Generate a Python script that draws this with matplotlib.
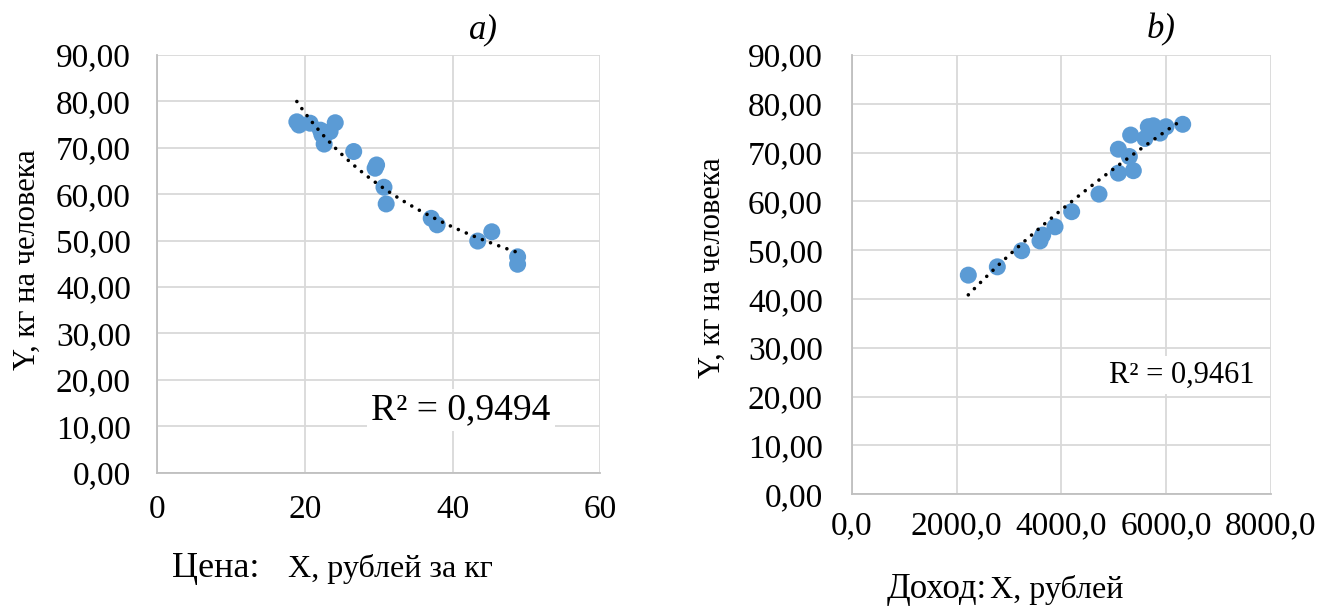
import numpy as np
import matplotlib
matplotlib.use("Agg")
import matplotlib.pyplot as plt

plt.rcParams['font.family'] = ['Liberation Serif', 'DejaVu Serif']

# a) price vs consumption
price = [18.9, 19.2, 20.7, 22.1, 22.3, 23.4, 24.1, 22.6, 26.6, 29.5,
         29.7, 30.7, 31.0, 37.1, 37.9, 43.4, 45.3, 48.8, 48.8]
cons_a = [75.6, 74.9, 75.3, 73.8, 72.8, 73.5, 75.4, 70.8, 69.2, 65.6,
          66.3, 61.5, 57.9, 54.8, 53.4, 49.9, 51.9, 46.5, 44.9]

# b) income vs consumption
income = [2222, 2776, 3241, 3591, 3642, 3878, 4196, 4718, 5088, 5374,
          5088, 5298, 5323, 5597, 5660, 5756, 5884, 5998, 6317]
cons_b = [44.9, 46.6, 49.9, 51.9, 53.1, 54.8, 57.9, 61.5, 65.8, 66.3,
          70.7, 69.2, 73.6, 72.9, 75.3, 75.5, 74.0, 75.3, 75.8]

r2_a = "R² = 0,9494"
r2_b = "R² = 0,9461"
yticks = [0, 10, 20, 30, 40, 50, 60, 70, 80, 90]
xticks_a = [0, 20, 40, 60]
xticks_b = [0, 2000, 4000, 6000, 8000]

W, H = 1319, 606
fig = plt.figure(figsize=(W / 100, H / 100), dpi=100)

blue = "#5b9bd5"
grid_c = "#d9d9d9"
axis_c = "#bfbfbf"


def style(ax, xt, xfmt, ylab_pad, xlab_pad):
    ax.set_yticks(yticks)
    ax.set_yticklabels([f"{v:.2f}".replace(".", ",") for v in yticks])
    ax.set_xticks(xt)
    ax.set_xticklabels([xfmt(v) for v in xt])
    ax.set_ylim(0, 90)
    ax.set_xlim(xt[0], xt[-1])
    ax.grid(True, color=grid_c, lw=1.3)
    ax.set_axisbelow(True)
    for s in ["top", "right"]:
        ax.spines[s].set_visible(False)
    for s in ["left", "bottom"]:
        ax.spines[s].set_color(axis_c)
        ax.spines[s].set_linewidth(1.3)
    ax.tick_params(axis="both", length=0, labelsize=24)
    ax.tick_params(axis="y", pad=ylab_pad)
    ax.tick_params(axis="x", pad=xlab_pad)


def power_trend(ax, x, y):
    # power trendline, fitted in log space
    b, ln_a = np.polyfit(np.log(x), np.log(y), 1)
    xs = np.linspace(min(x), max(x), 100)
    ax.plot(xs, np.exp(ln_a) * xs ** b, color="black", lw=2.6,
            linestyle=(0, (0.01, 2.4)), dash_capstyle="round", zorder=3)


# left panel
ax1 = fig.add_axes([157.3 / W, 1 - 472.6 / H, 443 / W, 417.6 / H])
style(ax1, xticks_a, lambda v: f"{v}", 19, 16)
ax1.scatter(price, cons_a, s=150, color=blue, edgecolors="none", zorder=2)
power_trend(ax1, price, cons_a)

# right panel
ax2 = fig.add_axes([852 / W, 1 - 494.3 / H, 418.8 / W, 439.3 / H])
style(ax2, xticks_b, lambda v: f"{v:.1f}".replace(".", ","), 21, 12)
ax2.scatter(income, cons_b, s=150, color=blue, edgecolors="none", zorder=2)
power_trend(ax2, income, cons_b)

# labels
fig.text(27 / W, 1 - 260 / H, "Y, кг на человека", rotation=90,
         ha="center", va="center", fontsize=22)
fig.text(712 / W, 1 - 268 / H, "Y, кг на человека", rotation=90,
         ha="center", va="center", fontsize=22)
fig.text(172 / W, 1 - 577 / H, "Цена:", ha="left", va="baseline", fontsize=26)
fig.text(288 / W, 1 - 577 / H, "X, рублей за кг", ha="left", va="baseline", fontsize=23)
fig.text(887 / W, 1 - 598 / H, "Доход:", ha="left", va="baseline", fontsize=25)
fig.text(990 / W, 1 - 598 / H, "X, рублей", ha="left", va="baseline", fontsize=23)
fig.text(483 / W, 1 - 30 / H, "a)", ha="center", va="center", fontsize=25, style="italic")
fig.text(1161 / W, 1 - 30 / H, "b)", ha="center", va="center", fontsize=25, style="italic")

fig.text(461 / W, 1 - 410 / H, r2_a, ha="center", va="center", fontsize=27,
         bbox=dict(facecolor="white", edgecolor="none", pad=3))
fig.text(1182 / W, 1 - 375 / H, r2_b, ha="center", va="center", fontsize=22,
         bbox=dict(facecolor="white", edgecolor="none", pad=3))

fig.savefig("out.png", dpi=100)
